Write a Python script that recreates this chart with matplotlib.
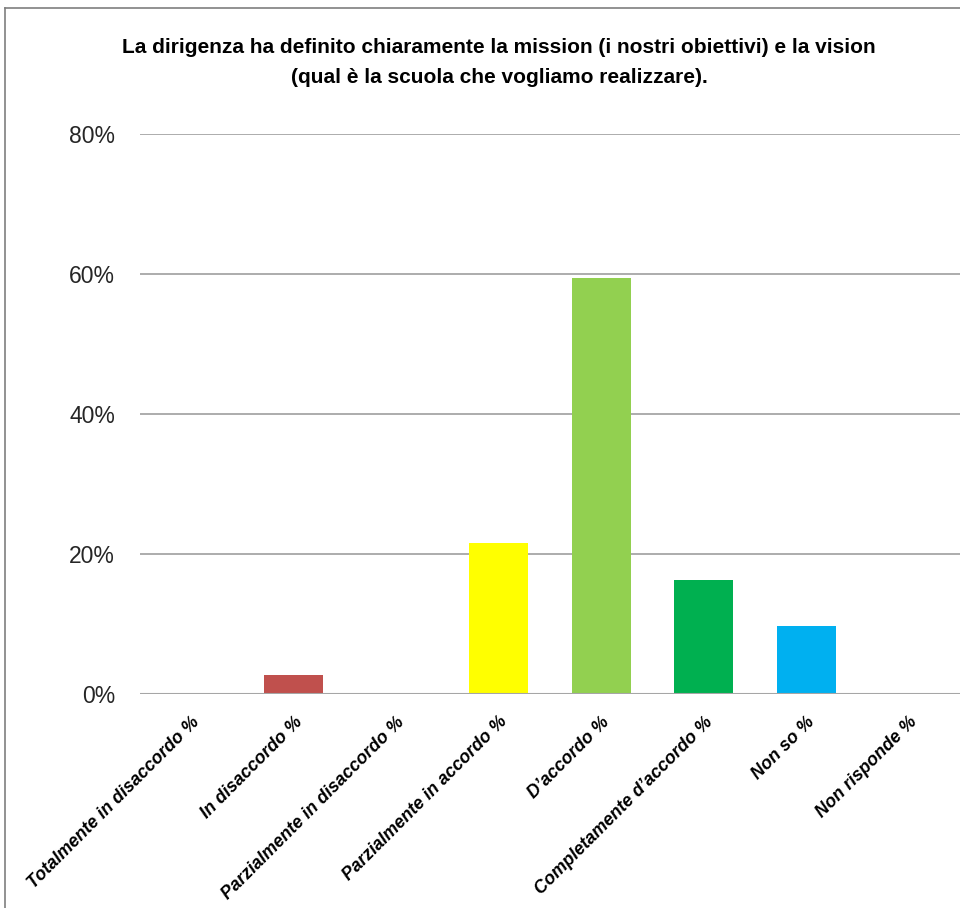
import matplotlib.pyplot as plt
from matplotlib.ticker import PercentFormatter
from matplotlib.lines import Line2D

plt.rcParams['font.family'] = ['Liberation Sans', 'DejaVu Sans']

categories = ['Totalmente in disaccordo %', 'In disaccordo %', 'Parzialmente in disaccordo %',
              'Parzialmente in accordo %', "D\u2019accordo %", "Completamente d\u2019accordo %",
              'Non so %', 'Non risponde %']
values = [0.0, 2.7, 0.0, 21.6, 59.4, 16.3, 9.7, 0.0]
colors = ['#4F81BD', '#C0504D', '#F79646', '#FFFF00', '#92D050', '#00B050', '#00B0F0', '#7F7F7F']
title = ('La dirigenza ha definito chiaramente la mission (i nostri obiettivi) e la vision\n'
         '(qual \u00e8 la scuola che vogliamo realizzare).')

fig = plt.figure(figsize=(9.6, 9.08), dpi=100)
ax = fig.add_axes([0.1458, 0.2357, 0.8542, 0.6167])

x = range(len(categories))
ax.bar(x, [v / 100 for v in values], width=0.575, color=colors, zorder=3)

ax.set_xlim(-0.5, len(categories) - 0.5)
ax.set_ylim(0, 0.8)
ax.set_yticks([0, 0.2, 0.4, 0.6, 0.8])
ax.yaxis.set_major_formatter(PercentFormatter(1.0, decimals=0))
ax.grid(axis='y', color='#A6A6A6', linewidth=1.3, zorder=0)
for s in ax.spines.values():
    s.set_visible(False)
ax.axhline(0, color='#A6A6A6', linewidth=1.5, zorder=4)
ax.tick_params(axis='both', length=0)
ax.tick_params(axis='y', labelsize=16.5, pad=18, labelcolor='#262626')

ax.set_xticks(list(x))
ax.set_xticklabels(categories, rotation=45, ha='right', va='top', rotation_mode='anchor',
                   fontsize=12.8, fontweight='bold', fontstyle='italic')
ax.tick_params(axis='x', pad=14)

fig.text(0.52, 0.958, title, ha='center', va='top', fontsize=15, fontweight='bold',
         linespacing=1.75)

# chart border (left and top visible)
fig.add_artist(Line2D([0.0052, 0.0052], [0, 0.991], color='#7F7F7F', linewidth=1.2,
                      transform=fig.transFigure))
fig.add_artist(Line2D([0.0052, 1], [0.991, 0.991], color='#7F7F7F', linewidth=1.2,
                      transform=fig.transFigure))

fig.savefig('out.png', dpi=100)
